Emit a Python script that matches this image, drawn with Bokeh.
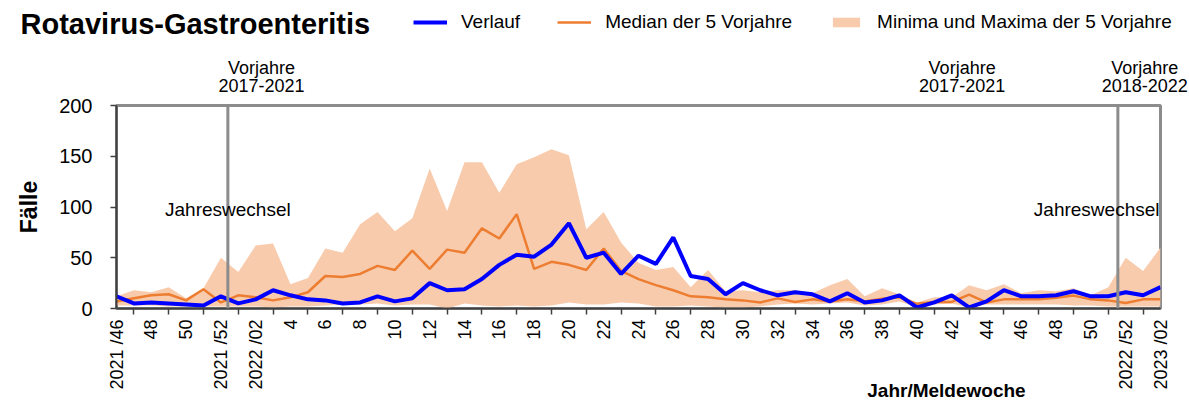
import math
from bokeh.plotting import figure
from bokeh.layouts import column
from bokeh.models import (Range1d, FixedTicker, Span, Label, Legend, LegendItem, LinearAxis)
from bokeh.embed import file_html
from bokeh.resources import INLINE

# ---- data: weekly values 2021/46 .. 2023/02 (61 weeks) ----
weeks = ([f"2021/{w}" for w in range(46, 53)]
         + [f"2022/{w:02d}" for w in range(1, 53)]
         + [f"2023/{w:02d}" for w in range(1, 3)])

verlauf = [12, 5, 6, 5, 4, 3, 12, 5, 9, 18, 13, 9, 8, 5, 6, 12, 7, 10, 25, 18,
           19, 29, 43, 53, 51, 63, 84, 50, 55, 34, 52, 44, 70, 32, 29, 14, 25, 18, 13, 16,
           14, 7, 15, 6, 8, 13, 1, 6, 13, 1, 7, 18, 12, 12, 13, 17, 12, 12, 16, 13, 21]

median = [7, 10, 13, 14, 8, 19, 6, 13, 11, 8, 11, 16, 32, 31, 34, 42, 38, 57, 39, 58,
          55, 79, 69, 93, 39, 46, 43, 38, 59, 37, 29, 23, 18, 12, 11, 9, 8, 6, 10, 6.5,
          9, 7, 9, 7, 9.5, 11, 4.6, 6.5, 6.5, 13.7, 6, 9, 9, 9, 10.5, 12.7, 9, 8, 5.5, 9, 9]

maxima = [12, 18, 16, 21, 10, 20, 50, 36, 62, 64, 24, 30, 59, 55, 83, 95, 76, 89, 138, 96,
          144, 144, 114, 142, 149, 157, 151, 78, 95, 65, 45, 38, 41, 21, 38, 17, 18, 16, 18, 18,
          15, 23, 29, 12, 20, 14, 6, 11, 11, 23, 18, 24, 15, 18, 17, 20, 13, 21, 50, 37, 60]

minima = [3, 3, 3, 2, 2, 2, 2, 2, 2, 1, 2, 2, 3, 4, 4, 5, 3, 4, 4, 0,
          5, 3, 2, 3, 2, 3, 6, 4, 4, 6, 5, 2, 2, 3, 2, 1, 1, 2, 4, 5,
          4, 5, 6, 3, 4, 7, 1, 4, 5, 1, 4, 4, 4, 4, 4, 3, 3, 2, 2, 2, 2]

tick_labels = (["2021 /46", "48", "50", "2021 /52", "2022 /02"]
               + [str(w) for w in range(4, 51, 2)]
               + ["2022 /52", "2023 /02"])

year_change = [6.4, 57.55]
period_pos = [8.33, 48.6, 59.1]
period_text = ["2017-2021", "2017-2021", "2018-2022"]
xtitle_pos = [47.7]

idx = list(range(len(weeks)))
FONT = "Liberation Sans"
HEAD_H = 46


def no_frame_align(fig):
    if "frame_align" in fig.properties():
        fig.frame_align = False


# ---------------- header: title + legend ----------------
# The header's y range lies below every value, so its series only serve as legend keys.
head = figure(width=1189, height=HEAD_H, x_range=Range1d(0, 60), y_range=Range1d(-20, -10),
              x_axis_type=None, y_axis_type=None, output_backend="svg",
              toolbar_location=None, title_location=None, min_border=0)
no_frame_align(head)
head.outline_line_color = None
head.background_fill_color = "white"
head.border_fill_color = "white"

k_cur = head.line(idx, verlauf, line_color="#0000FF", line_width=4)
k_med = head.line(idx, median, line_color="#ED7D31", line_width=2.5)
k_band = head.varea(x=idx, y1=minima, y2=maxima, fill_color="#F8CBAD")

legend = Legend(items=[LegendItem(label="Verlauf", renderers=[k_cur]),
                       LegendItem(label="Median der 5 Vorjahre", renderers=[k_med]),
                       LegendItem(label="Minima und Maxima der 5 Vorjahre", renderers=[k_band])],
                location=(413, 13), orientation="horizontal",
                padding=0, margin=0, spacing=37, glyph_width=34, glyph_height=12,
                label_standoff=14, label_text_font=FONT, label_text_font_size="19px",
                label_text_color="black",
                border_line_color=None, background_fill_alpha=0)
head.add_layout(legend)
head.add_layout(Label(x=20, y=23, x_units="screen", y_units="screen",
                      text="Rotavirus-Gastroenteritis", text_font=FONT, text_font_style="bold",
                      text_font_size="29px", text_color="black",
                      text_baseline="middle", text_align="left"))

# ---------------- main chart ----------------
p = figure(width=1189, height=403 - HEAD_H, x_range=Range1d(0, 60), y_range=Range1d(0, 200),
           output_backend="svg", toolbar_location=None, title_location=None,
           min_border_left=116, min_border_right=29, min_border_top=105 - HEAD_H,
           min_border_bottom=94)
no_frame_align(p)
p.background_fill_color = "white"
p.border_fill_color = "white"
p.xgrid.visible = False
p.ygrid.visible = False
p.outline_line_color = "#8c8c8c"
p.outline_line_width = 3

r_band = p.varea(x=idx, y1=minima, y2=maxima, fill_color="#F8CBAD")
r_med = p.line(idx, median, line_color="#ED7D31", line_width=2.5)
r_cur = p.line(idx, verlauf, line_color="#0000FF", line_width=4)

for loc in year_change:
    p.add_layout(Span(location=loc, dimension="height", line_color="#8c8c8c", line_width=3))

# x axis
p.xaxis.ticker = FixedTicker(ticks=list(range(0, 61, 2)), minor_ticks=list(range(1, 61, 2)))
p.xaxis.major_label_overrides = {i * 2: t for i, t in enumerate(tick_labels)}
p.xaxis.major_label_orientation = math.pi / 2
p.xaxis.major_tick_in = 0
p.xaxis.major_tick_out = 0
p.xaxis.minor_tick_in = 0
p.xaxis.minor_tick_out = 6
p.xaxis.major_label_standoff = 5
p.xaxis.major_label_text_font = FONT
p.xaxis.major_label_text_font_size = "18px"
p.xaxis.major_label_text_color = "black"
p.xaxis.axis_line_color = "#404040"
p.xaxis.axis_line_width = 2
p.xaxis.minor_tick_line_color = "#404040"
p.xaxis.minor_tick_line_width = 1.5

# y axis
p.yaxis.ticker = FixedTicker(ticks=[0, 50, 100, 150, 200])
p.yaxis.major_tick_in = 0
p.yaxis.major_tick_out = 6
p.yaxis.minor_tick_out = 0
p.yaxis.minor_tick_in = 0
p.yaxis.major_label_standoff = 18
p.yaxis.major_label_text_font = FONT
p.yaxis.major_label_text_font_size = "20px"
p.yaxis.major_label_text_color = "black"
p.yaxis.axis_line_color = "#404040"
p.yaxis.axis_line_width = 2
p.yaxis.major_tick_line_color = "#404040"
p.yaxis.major_tick_line_width = 1.5
p.yaxis.axis_label = "Fälle"
p.yaxis.axis_label_text_font = FONT
p.yaxis.axis_label_text_font_style = "bold"
p.yaxis.axis_label_text_font_size = "23px"
p.yaxis.axis_label_text_color = "black"
p.yaxis.axis_label_standoff = 14


def text_axis(positions, labels, standoff, size="18px", style="normal"):
    return LinearAxis(ticker=FixedTicker(ticks=positions),
                      major_label_overrides={pos: lab for pos, lab in zip(positions, labels)},
                      axis_line_color=None, major_tick_line_color=None,
                      minor_tick_line_color=None,
                      major_tick_in=0, major_tick_out=0, minor_tick_in=0, minor_tick_out=0,
                      major_label_standoff=standoff, major_label_text_font=FONT,
                      major_label_text_font_size=size, major_label_text_font_style=style,
                      major_label_text_color="black")


# "Vorjahre" annotations above the frame (stacked outward from the frame)
p.add_layout(text_axis(period_pos, period_text, 14), "above")
p.add_layout(text_axis(period_pos, ["Vorjahre"] * 3, -2), "above")

# x axis title, placed right of centre as in the original
p.add_layout(text_axis(xtitle_pos, ["Jahr/Meldewoche"], -13, "19px", "bold"), "below")

# year-change labels inside the frame
p.add_layout(Label(x=year_change[0], y=98, text="Jahreswechsel", text_font=FONT,
                   text_font_size="19px", text_color="black",
                   text_baseline="middle", text_align="center"))
p.add_layout(Label(x=60, y=98, x_offset=-1, text="Jahreswechsel", text_font=FONT,
                   text_font_size="19px", text_color="black",
                   text_baseline="middle", text_align="right"))

layout = column(head, p, spacing=0)
open("out.html", "w").write(file_html(layout, INLINE))
